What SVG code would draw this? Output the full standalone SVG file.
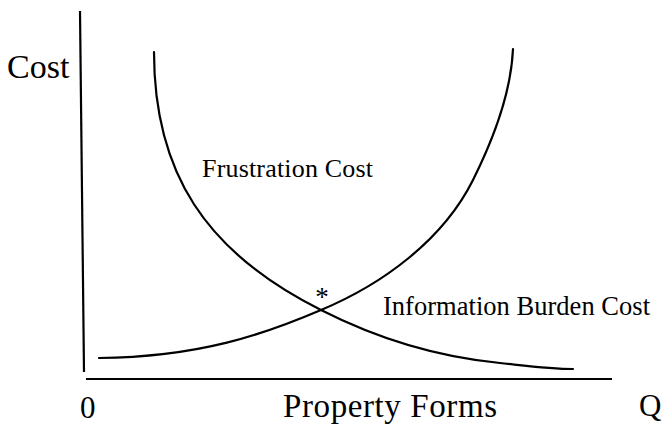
<svg xmlns="http://www.w3.org/2000/svg" width="666" height="425" viewBox="0 0 666 425">
<style>
.ax{stroke:#000;stroke-width:2.2;fill:none}
.cv{stroke:#000;stroke-width:2.2;fill:none;stroke-linecap:round}
.t{font-family:"Liberation Serif","Times New Roman",serif;fill:#000}
</style>
<rect width="666" height="425" fill="#fff"/>
<g id="axes">
<line class="ax" x1="80" y1="11" x2="84" y2="372"/>
<line class="ax" x1="86" y1="379" x2="612" y2="379"/>
</g>
<g id="connectors">
<path id="frustration-curve" class="cv" d="M154,52 C154,172 205,252 321,310 C376,338 438,357 500,363 C524,365.5 550,369 573,369"/>
<path id="information-curve" class="cv" d="M99,358 C200,357 265,334 321,310 C383,284 443,240 473,180 C493,140 511,94 513,49"/>
</g>
<g id="labels">
<text class="t" x="7" y="78" font-size="34">Cost</text>
<text class="t" x="202" y="177" font-size="26" textLength="171">Frustration Cost</text>
<text class="t" x="383" y="315" font-size="26.5" textLength="267">Information Burden Cost</text>
<text class="t" x="322" y="306" font-size="27" text-anchor="middle">*</text>
<text class="t" x="80" y="418" font-size="31">0</text>
<text class="t" x="283" y="417" font-size="33" textLength="214">Property Forms</text>
<text class="t" x="639" y="416" font-size="31">Q</text>
</g>
</svg>
